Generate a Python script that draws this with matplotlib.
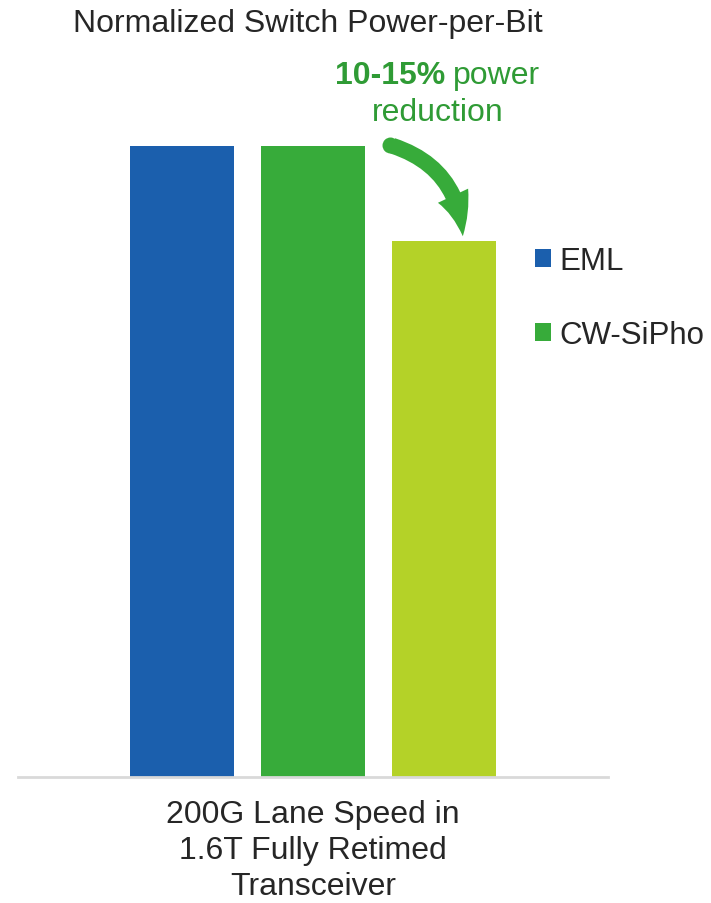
import matplotlib.pyplot as plt
from matplotlib.patches import FancyArrowPatch
from matplotlib.lines import Line2D

plt.rcParams['font.family'] = ['Liberation Sans', 'DejaVu Sans']

# power per bit, normalized to the EML transceiver
labels = ['EML', 'CW-SiPho', '']
values = [1.0, 1.0, 0.85]
colors = ['#1B5FAD', '#37AB3A', '#B4D228']
category = '200G Lane Speed in\n1.6T Fully Retimed\nTransceiver'

W, H = 711, 904
fig = plt.figure(figsize=(W / 100, H / 100), dpi=100)

def fx(px):
    return px / W

def fy(py):
    return 1 - py / H

ax = fig.add_axes([fx(18), fy(778), fx(590), 631 / H])
bars = ax.bar(range(len(values)), values, width=0.794, color=colors, label=labels)
ax.set_xlim(-1.252, 3.252)
ax.set_ylim(0, 1.0)
for s in ['top', 'right', 'left']:
    ax.spines[s].set_visible(False)
ax.spines['bottom'].set_color('#D9D9D9')
ax.spines['bottom'].set_linewidth(2)
ax.set_xticks([])
ax.set_yticks([])
for b in bars:
    b.set_clip_on(False)

# category label under the axis
fig.text(fx(313), fy(851), category, ha='center', va='center', fontsize=23,
         color='#262626', linespacing=1.25)

fig.text(fx(308), fy(24), 'Normalized Switch Power-per-Bit', ha='center', va='center',
         fontsize=23, color='#262626')

# legend for the first two series
handles = [bars[0], bars[1]]
fig.legend(handles, labels[:2], loc='upper left', bbox_to_anchor=(fx(510), fy(222)),
           frameon=False, fontsize=22.5, handlelength=0.52, handleheight=0.52,
           handletextpad=0.27, labelspacing=1.42, labelcolor='#262626', borderpad=0.3)

# reduction callout
green_txt = '#2F9B35'
fig.text(fx(445), fy(76), '10-15%', ha='right', va='center', fontsize=23,
         fontweight='bold', color=green_txt)
fig.text(fx(453), fy(76), 'power', ha='left', va='center', fontsize=23, color=green_txt)
fig.text(fx(438), fy(113), 'reduction', ha='center', va='center', fontsize=23, color=green_txt)

green = '#37AB3A'
arrow = FancyArrowPatch((fx(390), fy(146)), (fx(463), fy(240)),
                        transform=fig.transFigure, connectionstyle='arc3,rad=-0.35',
                        arrowstyle='simple,head_width=24,head_length=30,tail_width=11.5',
                        mutation_scale=1, color=green, lw=0)
fig.patches.append(arrow)
fig.add_artist(Line2D([fx(390)], [fy(146)], marker='o', markersize=11.5, color=green,
                      markeredgewidth=0, transform=fig.transFigure))

fig.savefig('out.png', dpi=100)
